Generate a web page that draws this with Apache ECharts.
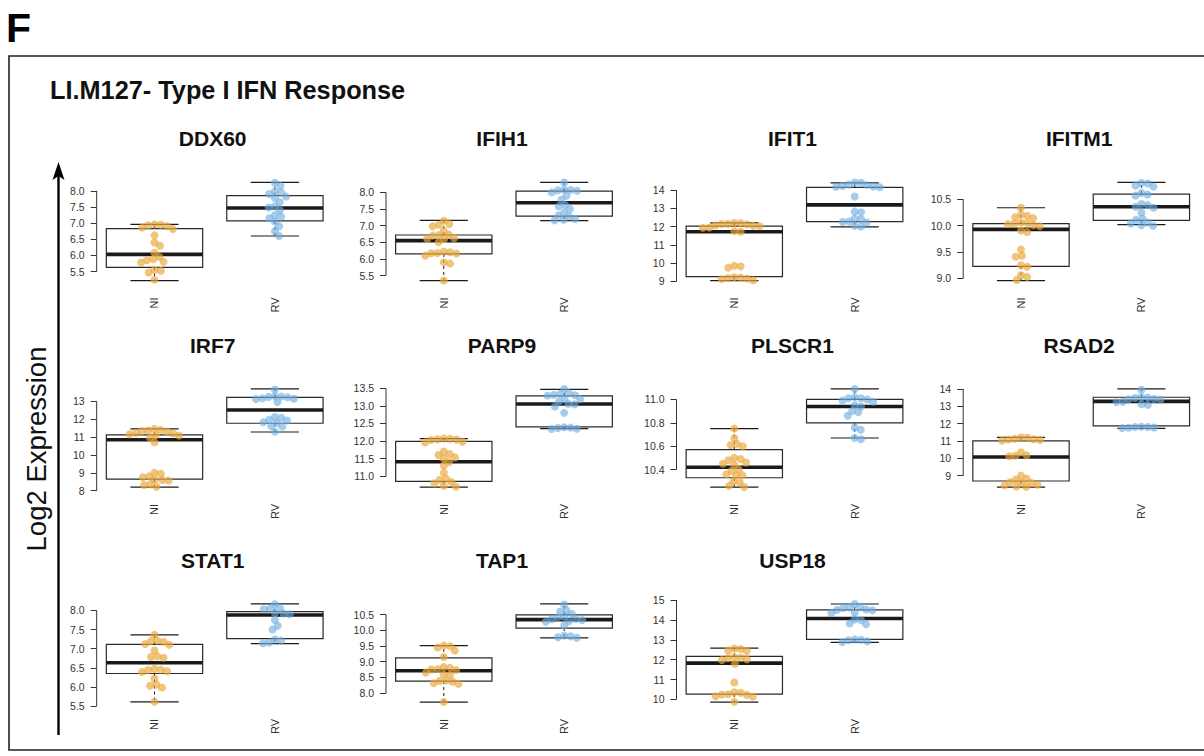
<!DOCTYPE html>
<html><head><meta charset="utf-8">
<script src="https://cdn.jsdelivr.net/npm/echarts@6/dist/echarts.min.js"></script>
<style>html,body{margin:0;padding:0;background:#fff}#c{width:1204px;height:756px}</style>
</head><body><div id="c"></div>
<script>
// ---------- DATA ----------
const genes = ['DDX60','IFIH1','IFIT1','IFITM1','IRF7','PARP9','PLSCR1','RSAD2','STAT1','TAP1','USP18'];
const groups = ['NI','RV'];
// box statistics: [lower whisker, Q1, median, Q3, upper whisker]
const boxNI = [
  [5.22,5.63,6.03,6.83,6.96],
  [5.35,6.15,6.55,6.72,7.16],
  [9.04,9.26,11.72,12.03,12.20],
  [8.96,9.23,9.93,10.04,10.34],
  [8.20,8.65,10.85,11.12,11.45],
  [10.69,10.85,11.41,11.99,12.07],
  [10.25,10.33,10.42,10.57,10.75],
  [8.34,8.69,10.07,11.00,11.21],
  [5.61,6.35,6.63,7.11,7.36],
  [7.71,8.38,8.71,9.12,9.51],
  [9.87,10.27,11.83,12.17,12.58]
];
const boxRV = [
  [6.60,7.07,7.47,7.85,8.26],
  [7.15,7.29,7.69,8.04,8.30],
  [11.98,12.27,13.19,14.15,14.40],
  [10.02,10.10,10.36,10.60,10.82],
  [11.28,11.77,12.51,13.22,13.69],
  [12.35,12.40,13.05,13.28,13.47],
  [10.67,10.80,10.94,11.00,11.09],
  [11.73,11.87,13.28,13.52,14.00],
  [7.13,7.26,7.88,7.97,8.17],
  [9.76,10.07,10.34,10.49,10.84],
  [12.87,13.02,14.07,14.50,14.80]
];
const pointsNI = [
  [6.96,6.95,6.93,6.90,6.86,6.82,6.62,6.40,6.30,6.08,5.95,5.88,5.85,5.80,5.78,5.55,5.52,5.47,5.25],
  [7.15,7.05,7.03,6.98,6.85,6.73,6.72,6.70,6.62,6.60,6.60,6.50,6.22,6.20,6.18,6.17,6.16,6.10,5.90,5.86,5.35],
  [12.20,12.19,12.15,12.14,12.12,12.06,12.04,12.02,11.95,11.93,11.75,11.72,9.85,9.82,9.75,9.22,9.20,9.18,9.15,9.12,9.05],
  [10.34,10.21,10.19,10.16,10.14,10.06,10.05,10.04,10.03,10.01,9.99,9.91,9.88,9.55,9.43,9.41,9.25,9.22,9.06,9.03,8.97],
  [11.45,11.40,11.36,11.34,11.30,11.22,11.20,11.15,11.10,11.08,10.95,10.70,9.00,8.95,8.80,8.75,8.62,8.60,8.57,8.35,8.32,8.22],
  [12.07,12.06,12.05,12.04,12.03,11.98,11.96,11.70,11.63,11.60,11.53,11.50,11.40,11.30,11.10,10.93,10.90,10.83,10.80,10.73,10.70],
  [10.75,10.67,10.62,10.61,10.60,10.50,10.49,10.48,10.46,10.45,10.44,10.40,10.39,10.36,10.35,10.35,10.30,10.29,10.26,10.25],
  [11.20,11.18,11.12,11.10,11.08,11.05,11.02,10.35,10.17,10.15,10.12,9.00,8.82,8.78,8.62,8.60,8.58,8.47,8.44,8.37,8.35],
  [7.36,7.21,7.20,7.18,7.12,7.10,6.95,6.80,6.78,6.76,6.47,6.45,6.44,6.41,6.39,6.22,6.06,6.03,5.98,5.61],
  [9.51,9.49,9.45,9.35,9.15,8.83,8.80,8.76,8.75,8.73,8.65,8.59,8.57,8.40,8.38,8.36,8.31,8.29,7.71],
  [12.56,12.54,12.46,12.44,12.12,12.10,12.08,12.02,11.98,11.80,10.85,10.36,10.34,10.26,10.25,10.24,10.16,10.14,9.88]
];
const pointsRV = [
  [8.25,8.15,7.98,7.95,7.90,7.82,7.78,7.65,7.52,7.48,7.40,7.25,7.20,7.15,7.05,6.90,6.75,6.60],
  [8.30,8.08,8.07,8.06,8.05,8.00,7.90,7.78,7.62,7.58,7.50,7.40,7.31,7.28,7.20,7.18,7.16],
  [14.42,14.40,14.30,14.28,14.22,14.20,14.18,14.16,13.65,12.82,12.78,12.45,12.40,12.28,12.25,12.22,12.05,12.00],
  [10.81,10.80,10.76,10.74,10.62,10.59,10.57,10.41,10.39,10.36,10.34,10.25,10.13,10.11,10.06,10.04,10.01,10.00],
  [13.66,13.28,13.26,13.24,13.22,13.16,13.14,13.12,12.95,12.12,12.08,11.96,11.92,11.82,11.78,11.62,11.58,11.30],
  [13.48,13.36,13.34,13.31,13.30,13.29,13.21,13.19,13.12,13.06,13.04,12.98,12.80,12.39,12.38,12.37,12.35,12.34],
  [11.09,11.02,11.01,11.01,11.00,10.99,10.98,10.95,10.94,10.90,10.89,10.86,10.76,10.74,10.67,10.66],
  [13.95,13.52,13.50,13.48,13.42,13.40,13.38,13.26,13.24,13.12,13.08,11.82,11.80,11.80,11.78,11.76,11.74],
  [8.16,8.06,8.05,8.03,7.93,7.92,7.90,7.75,7.60,7.50,7.24,7.21,7.16,7.14],
  [10.82,10.63,10.60,10.52,10.43,10.41,10.36,10.35,10.33,10.29,10.27,10.15,9.83,9.81,9.78,9.76],
  [14.80,14.63,14.62,14.60,14.52,14.50,14.48,14.36,14.34,14.02,13.98,13.82,13.78,13.02,13.00,12.98,12.92,12.88]
];
const yTickLabels = [
  ['5.5','6.0','6.5','7.0','7.5','8.0'],
  ['5.5','6.0','6.5','7.0','7.5','8.0'],
  ['9','10','11','12','13','14'],
  ['9.0','9.5','10.0','10.5'],
  ['8','9','10','11','12','13'],
  ['11.0','11.5','12.0','12.5','13.0','13.5'],
  ['10.4','10.6','10.8','11.0'],
  ['9','10','11','12','13','14'],
  ['5.5','6.0','6.5','7.0','7.5','8.0'],
  ['8.0','8.5','9.0','9.5','10.0','10.5'],
  ['10','11','12','13','14','15']
];
const mainTitle = 'LI.M127- Type I IFN Response';
const panelLetter = 'F';
const yAxisName = 'Log2 Expression';

// ---------- LAYOUT ----------
const FONT = '"Liberation Sans", Arial, Helvetica, sans-serif';
const colLeft = [96.7, 386, 676.5, 963.2];
const rowTop = [178.5, 385, 600];
const GW = 236, GH = 106;
const XMIN = 0.52, XMAX = 2.48;
const PT_COLORS = ['rgba(233,168,60,0.68)', 'rgba(110,172,225,0.62)'];
const DOT_R = 4, DOT_D = 6.4;

function swarm(ys, d) {
  const order = ys.map((y, i) => i).sort((a, b) => ys[a] - ys[b]);
  const placed = [], xs = new Array(ys.length).fill(0);
  for (const i of order) {
    const y = ys[i];
    const cands = [0];
    for (const p of placed) {
      const dy = Math.abs(p.y - y);
      if (dy < d) { const dx = Math.sqrt(d * d - dy * dy); cands.push(p.x + dx, p.x - dx); }
    }
    cands.sort((a, b) => Math.abs(a) - Math.abs(b));
    for (const cx of cands) {
      if (placed.every(p => (p.x - cx) ** 2 + (p.y - y) ** 2 >= d * d - 0.01)) {
        xs[i] = cx; placed.push({ x: cx, y }); break;
      }
    }
  }
  return xs;
}

const grids = [], xAxes = [], yAxes = [], series = [], graphics = [];
genes.forEach((g, i) => {
  const r = Math.floor(i / 4), c = i % 4;
  const left = colLeft[c], top = rowTop[r];
  grids.push({ left, top, width: GW, height: GH });
  const ticks = yTickLabels[i].map(Number);
  const all = [].concat(boxNI[i], boxRV[i], pointsNI[i], pointsRV[i]);
  const lo = Math.min(...all), hi = Math.max(...all), pad = 0.04 * (hi - lo);
  xAxes.push({
    gridIndex: i, type: 'value', min: XMIN, max: XMAX,
    axisLine: { show: false }, axisTick: { show: false }, splitLine: { show: false },
    axisLabel: {
      customValues: [1, 2], formatter: v => groups[Math.round(v) - 1] || '',
      rotate: 90, margin: 13, fontSize: 11, color: '#333', fontFamily: FONT
    }
  });
  yAxes.push({
    gridIndex: i, type: 'value',
    min: Math.min(lo - pad, ticks[0]), max: Math.max(hi + pad, ticks[ticks.length - 1]),
    axisLine: { show: false }, splitLine: { show: false },
    axisTick: { show: true, customValues: ticks, length: 6, lineStyle: { color: '#333', width: 1 } },
    axisLabel: {
      customValues: ticks, margin: 12, fontSize: 10.5, color: '#333', fontFamily: FONT,
      formatter: v => { const s = yTickLabels[i].find(t => Math.abs(Number(t) - v) < 1e-9); return s == null ? '' : s; }
    }
  });
  // y axis line from first to last tick (R style)
  series.push({
    type: 'custom', xAxisIndex: i, yAxisIndex: i, silent: true,
    data: [[ticks[0], ticks[ticks.length - 1]]],
    renderItem: (params, api) => {
      const a = api.coord([XMIN, api.value(0)]), b = api.coord([XMIN, api.value(1)]);
      return { type: 'line', shape: { x1: a[0], y1: a[1], x2: b[0], y2: b[1] }, style: { stroke: '#333', lineWidth: 1 } };
    }
  });
  // boxes + beeswarm points
  series.push({
    type: 'custom', xAxisIndex: i, yAxisIndex: i, silent: true,
    data: [[1].concat(boxNI[i]), [2].concat(boxRV[i])],
    renderItem: (params, api) => {
      const x = api.value(0);
      const [lw, q1, med, q3, uw] = [1, 2, 3, 4, 5].map(k => api.value(k));
      const P = v => api.coord([x, v]);
      const half = api.size([0.8, 0])[0] / 2, cap = half / 2;
      const cx = P(med)[0];
      const yq1 = P(q1)[1], yq3 = P(q3)[1], ym = P(med)[1], ylw = P(lw)[1], yuw = P(uw)[1];
      const ln = (x1, y1, x2, y2, w, dash) => ({
        type: 'line', shape: { x1, y1, x2, y2 },
        style: { stroke: '#1a1a1a', lineWidth: w, lineDash: dash || null }
      });
      const ch = [
        { type: 'rect', shape: { x: cx - half, y: yq3, width: half * 2, height: yq1 - yq3 }, style: { fill: '#fff', stroke: '#2a2a2a', lineWidth: 1.2 } },
        ln(cx, yq3, cx, yuw, 1, [3, 3]),
        ln(cx, yq1, cx, ylw, 1, [3, 3]),
        ln(cx - cap, yuw, cx + cap, yuw, 1.2),
        ln(cx - cap, ylw, cx + cap, ylw, 1.2),
        ln(cx - half, ym, cx + half, ym, 3.6)
      ];
      const pts = (params.dataIndex === 0 ? pointsNI : pointsRV)[i];
      const ys = pts.map(v => P(v)[1]);
      const xs = swarm(ys, DOT_D);
      ys.forEach((yy, k) => ch.push({
        type: 'circle', shape: { cx: cx + xs[k], cy: yy, r: DOT_R },
        style: { fill: PT_COLORS[params.dataIndex] }
      }));
      return { type: 'group', children: ch };
    }
  });
  graphics.push({
    type: 'text', x: left + 116, y: top - 40,
    style: { text: g, font: 'bold 21px ' + FONT, fill: '#111', align: 'center', verticalAlign: 'middle' }
  });
});

graphics.push(
  { type: 'rect', shape: { x: 9, y: 56, width: 1210, height: 694 }, style: { fill: 'none', stroke: '#222', lineWidth: 1.6 } },
  { type: 'text', x: 6, y: 27.5, style: { text: panelLetter, font: 'bold 41px ' + FONT, fill: '#000', align: 'left', verticalAlign: 'middle' } },
  { type: 'text', x: 50, y: 90, style: { text: mainTitle, font: 'bold 25.3px ' + FONT, fill: '#111', align: 'left', verticalAlign: 'middle' } },
  { type: 'line', shape: { x1: 58.5, y1: 735, x2: 58.5, y2: 172 }, style: { stroke: '#000', lineWidth: 2.4 } },
  { type: 'polygon', shape: { points: [[58.5, 162], [52.5, 180], [58.5, 176], [64.5, 180]] }, style: { fill: '#000' } },
  { type: 'text', x: 36, y: 449, rotation: Math.PI / 2, style: { text: yAxisName, font: '27.5px ' + FONT, fill: '#111', align: 'center', verticalAlign: 'middle' } }
);

const chart = echarts.init(document.getElementById('c'), null, { renderer: 'svg' });
chart.setOption({
  backgroundColor: '#fff',
  animation: false,
  grid: grids, xAxis: xAxes, yAxis: yAxes, series,
  graphic: { elements: graphics }
});
</script>
</body></html>
